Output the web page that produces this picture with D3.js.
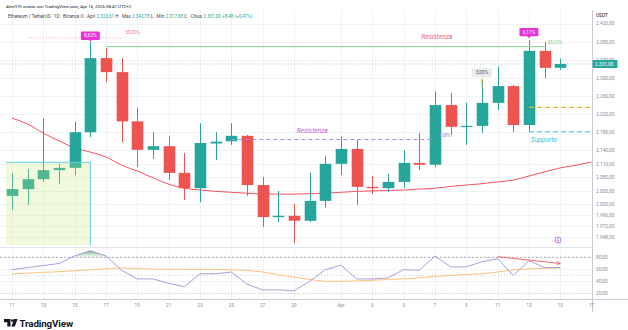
<!DOCTYPE html>
<html>
<head>
<meta charset="utf-8">
<script src="https://cdn.jsdelivr.net/npm/d3@7"></script>
<style>
  html, body { margin: 0; padding: 0; background: #fff; }
  svg { display: block; font-family: Roboto, "DejaVu Sans", sans-serif; }
</style>
</head>
<body>
<svg id="chart"></svg>
<script>
const width = 628;
const height = 330;

// daily candles ETH/USDT
const dates = [
  '2026-03-11', '2026-03-12', '2026-03-13', '2026-03-14', '2026-03-15', '2026-03-16',
  '2026-03-17', '2026-03-18', '2026-03-19', '2026-03-20', '2026-03-21', '2026-03-22',
  '2026-03-23', '2026-03-24', '2026-03-25', '2026-03-26', '2026-03-27', '2026-03-28',
  '2026-03-29', '2026-03-30', '2026-03-31', '2026-04-01', '2026-04-02', '2026-04-03',
  '2026-04-04', '2026-04-05', '2026-04-06', '2026-04-07', '2026-04-08', '2026-04-09',
  '2026-04-10', '2026-04-11', '2026-04-12', '2026-04-13', '2026-04-14', '2026-04-15'
];
const opens = [2039, 2054, 2076, 2096, 2101, 2180, 2344, 2313, 2204, 2141, 2149, 2090,
  2056, 2155, 2160, 2172, 2063, 1992, 1995, 1984, 2028, 2110, 2143, 2059,
  2056, 2070, 2112, 2108, 2240, 2192, 2194, 2245, 2282, 2196, 2360, 2322.61];
const highs = [2090, 2098, 2211, 2110, 2203, 2380, 2366, 2344, 2234, 2180, 2172, 2134,
  2200, 2180, 2200, 2174, 2081, 2050, 2021, 2090, 2128, 2170, 2163, 2083,
  2088, 2140, 2178, 2270, 2267, 2245, 2296, 2325, 2285, 2384, 2380, 2342.78];
const lows = [2008, 2019, 2070, 2065, 2085, 2169, 2291, 2158, 2103, 2121, 2074, 2030,
  2025, 2118, 2152, 2039, 1970, 1981, 1935, 1981, 2013, 2085, 2019, 2043,
  2048, 2057, 2096, 2103, 2174, 2152, 2178, 2229, 2180, 2181, 2299, 2317.68];
const closes = [2054, 2076, 2096, 2101, 2180, 2344, 2313, 2204, 2141, 2149, 2090, 2056,
  2156, 2159, 2172, 2063, 1992, 1995, 1984, 2028, 2110, 2143, 2059, 2056,
  2070, 2112, 2108, 2240, 2192, 2194, 2245, 2282, 2196, 2360, 2322.5, 2331];

// moving average (runs two days past the last candle)
const maDates = dates.concat(['2026-04-16', '2026-04-17']);
const maValues = [2211, 2198, 2178, 2161, 2145, 2136, 2125, 2107, 2094, 2079, 2065, 2056,
  2052, 2049, 2047, 2045, 2043, 2043, 2043, 2044, 2045, 2047, 2049, 2050,
  2051, 2052, 2054, 2056, 2060, 2063, 2066, 2070, 2074, 2083, 2092, 2101, 2107, 2114];

// RSI + its moving average
const rsiValues = [59.4, 62.9, 66.3, 69.7, 82.3, 90.9, 82.3, 58.3, 44, 44, 36.6, 30.9,
  52.6, 52.6, 55.4, 35.4, 25.7, 25.7, 24, 40, 59.4, 66.9, 44, 44,
  45.7, 59.4, 58.3, 82, 64, 64, 72.6, 77.7, 49.7, 74.3, 62.9, 62.9];
const rsiMaValues = [52.6, 53.5, 55, 56, 57.5, 59, 61, 62.3, 61, 60.5, 60, 60,
  59.5, 59.5, 59, 58.3, 55.4, 50.9, 46.9, 42.9, 40, 40, 40.6, 41.7,
  42.9, 44, 45.7, 48, 49.7, 51.4, 52.6, 55.4, 58.9, 60.6, 61.7, 62.3];

// axis ticks
const priceTicks = [2420, 2380, 2340, 2300, 2260, 2220, 2180, 2140, 2110, 2080, 2050, 2020, 1996, 1972, 1948];
const rsiTicks = [80, 60, 40, 20];
const dateTicks = ['2026-03-11', '2026-03-13', '2026-03-15', '2026-03-17', '2026-03-19', '2026-03-21',
  '2026-03-23', '2026-03-25', '2026-03-27', '2026-03-29', '2026-04-01', '2026-04-03', '2026-04-05',
  '2026-04-07', '2026-04-09', '2026-04-11', '2026-04-13', '2026-04-15', '2026-04-17'];

// drawings
const lastPrice = 2331;
const resistGreen = { from: '2026-03-17', to: '2026-04-14', price: 2369.3 };
const resistPurple = { from: '2026-03-25', to: '2026-04-07', price: 2163.8 };
const levelOrange = { from: '2026-04-13', to: '2026-04-17', price: 2235 };
const levelCyan = { from: '2026-04-13', to: '2026-04-17', price: 2181 };
const fibDotted = { from: '2026-03-12', to: '2026-03-18', price: 2389 };
const zone = { from: '2026-03-10T15:00Z', to: '2026-03-16', top: 2113.4, bottom: 1930.3 };
const pctTags = [
  { date: '2026-03-16', price: 2393.5, text: '8,62%' },
  { date: '2026-04-13', price: 2401.5, text: '6,11%' }
];
const grayTag = { date: '2026-04-10', price: 2311.5, text: '3,00%', arrowFrom: 2278, arrowTo: 2298 };
const labels = [
  { date: '2026-04-07T03:00Z', price: 2392.5, text: 'Resistenza', kind: 'red' },
  { date: '2026-03-30T04:00Z', price: 2183.3, text: 'Resistenza', kind: 'purple' },
  { date: '2026-04-13T23:00Z', price: 2162.7, text: 'Supporto', kind: 'cyan' },
  { date: '2026-04-07T15:00Z', price: 2173.8, text: '2,68%', kind: 'purpleSmall' },
  { date: '2026-04-14T16:00Z', price: 2379, text: '58,20%', kind: 'greenSmall' },
  { date: '2026-03-18T17:00Z', price: 2401.2, text: '50,00%', kind: 'pinkSmall' }
];
const rsiArrow = { from: '2026-04-11', to: '2026-04-15', v0: 81, v1: 69.7 };

// colors
const green = '#26a69a';
const red = '#ef5350';
const gridColor = '#f0f2f6';
const textGray = '#8a8d96';

const locale = d3.formatLocale({ decimal: ',', thousands: '.', grouping: [3], currency: ['', ''] });
const fmt = locale.format(',.2f');
const parse = d3.isoParse;

const axisX = 592;
const priceTop = 10, priceBottom = 247.5;
const rsiTop = 248, rsiBottom = 299;

const svg = d3.select('#chart').attr('width', width).attr('height', height);
svg.append('rect').attr('width', width).attr('height', height).attr('fill', '#fff');

const x = d3.scaleUtc()
  .domain([parse('2026-03-11'), parse('2026-04-17')])
  .range([12, 591.6]);
const y = d3.scaleLinear().domain([1925.9, 2450.5]).range([247, 10]);
const yRsi = d3.scaleLinear().domain([10.5, 95.5]).range([rsiBottom, rsiTop]);
const step = x(parse('2026-03-12')) - x(parse('2026-03-11'));

const defs = svg.append('defs');
defs.append('clipPath').attr('id', 'clipPrice')
  .append('rect').attr('x', 0).attr('y', priceTop).attr('width', axisX).attr('height', priceBottom - priceTop);
defs.append('clipPath').attr('id', 'clipRsi')
  .append('rect').attr('x', 0).attr('y', rsiTop).attr('width', axisX).attr('height', rsiBottom - rsiTop);
defs.append('clipPath').attr('id', 'clipOb')
  .append('rect').attr('x', 0).attr('y', rsiTop).attr('width', axisX).attr('height', yRsi(80) - rsiTop);
const grad = defs.append('linearGradient').attr('id', 'obFill')
  .attr('gradientUnits', 'userSpaceOnUse')
  .attr('x1', 0).attr('x2', 0).attr('y1', yRsi(92)).attr('y2', yRsi(80));
grad.append('stop').attr('offset', 0).attr('stop-color', '#388e3c').attr('stop-opacity', 0.75);
grad.append('stop').attr('offset', 1).attr('stop-color', '#66bb6a').attr('stop-opacity', 0.05);
const mk = defs.append('marker').attr('id', 'arrRed').attr('viewBox', '0 0 6 6')
  .attr('refX', 5).attr('refY', 3).attr('markerWidth', 5).attr('markerHeight', 5).attr('orient', 'auto');
mk.append('path').attr('d', 'M0,0L5,3L0,6').attr('fill', 'none').attr('stroke', '#f7525f').attr('stroke-width', 1);
const mk2 = defs.append('marker').attr('id', 'arrOrange').attr('viewBox', '0 0 6 6')
  .attr('refX', 5).attr('refY', 3).attr('markerWidth', 4).attr('markerHeight', 4).attr('orient', 'auto');
mk2.append('path').attr('d', 'M0,0L5,3L0,6').attr('fill', 'none').attr('stroke', '#f5b53d').attr('stroke-width', 1);

// GRID
const grid = svg.append('g');
grid.selectAll('.vgrid').data(dateTicks).join('line')
  .attr('x1', d => Math.round(x(parse(d))) + 0.5).attr('x2', d => Math.round(x(parse(d))) + 0.5)
  .attr('y1', priceTop).attr('y2', rsiBottom)
  .attr('stroke', gridColor);
grid.selectAll('.hgrid').data(priceTicks).join('line')
  .attr('x1', 0).attr('x2', axisX)
  .attr('y1', d => Math.round(y(d)) + 0.5).attr('y2', d => Math.round(y(d)) + 0.5)
  .attr('stroke', gridColor);
grid.selectAll('.rgrid').data(rsiTicks).join('line')
  .attr('x1', 0).attr('x2', axisX)
  .attr('y1', d => Math.round(yRsi(d)) + 0.5).attr('y2', d => Math.round(yRsi(d)) + 0.5)
  .attr('stroke', gridColor);

// PRICE PANE
const gp = svg.append('g').attr('clip-path', 'url(#clipPrice)');

// current price dotted line
gp.append('line')
  .attr('x1', 0).attr('x2', axisX)
  .attr('y1', y(lastPrice)).attr('y2', y(lastPrice))
  .attr('stroke', green).attr('stroke-opacity', 0.55).attr('stroke-dasharray', '1,2');

// moving average
const maLine = d3.line().x((d, i) => x(parse(maDates[i]))).y(d => y(d)).curve(d3.curveMonotoneX);
gp.append('path').datum(maValues)
  .attr('d', maLine).attr('fill', 'none').attr('stroke', '#f7525f').attr('stroke-width', 1);

const candles = dates.map((d, i) => ({ date: parse(d), o: opens[i], h: highs[i], l: lows[i], c: closes[i] }));
const cx = d => Math.round(x(d.date)) + 0.5;
const colorOf = d => (d.c >= d.o ? green : red);

gp.selectAll('.wick').data(candles).join('line')
  .attr('x1', cx).attr('x2', cx)
  .attr('y1', d => y(d.h)).attr('y2', d => y(d.l))
  .attr('stroke', colorOf).attr('stroke-width', 1);
const bw = step * 0.74;
gp.selectAll('.body').data(candles).join('rect')
  .attr('x', d => cx(d) - bw / 2)
  .attr('y', d => y(Math.max(d.o, d.c)))
  .attr('width', bw)
  .attr('height', d => Math.max(1.2, Math.abs(y(d.o) - y(d.c))))
  .attr('fill', colorOf);

// zone box
const zx0 = x(parse(zone.from)), zx1 = x(parse(zone.to));
gp.append('rect')
  .attr('x', zx0).attr('y', y(zone.top))
  .attr('width', zx1 - zx0).attr('height', y(zone.bottom) - y(zone.top))
  .attr('fill', 'rgba(205,235,120,0.25)');
gp.append('path')
  .attr('d', `M${zx0},${y(zone.top)}H${zx1}V${y(zone.bottom)}`)
  .attr('fill', 'none').attr('stroke', '#5fd3e3').attr('stroke-width', 1);

// horizontal drawings
const hline = (lv, color, dash, w) => gp.append('line')
  .attr('x1', x(parse(lv.from))).attr('x2', x(parse(lv.to)))
  .attr('y1', y(lv.price)).attr('y2', y(lv.price))
  .attr('stroke', color).attr('stroke-width', w)
  .attr('stroke-dasharray', dash);
hline(resistGreen, '#9ed49f', null, 1.2);
hline(resistPurple, '#a58de6', '4,3', 1);
hline(levelOrange, '#f5b829', '5,3', 1.2);
hline(levelCyan, '#3fc8dc', '5,3', 1.2);
hline(fibDotted, '#f5a0b8', '1,2', 1);

// percentage tags (magenta)
pctTags.forEach(t => {
  const tx = x(parse(t.date)), ty = y(t.price);
  gp.append('path')
    .attr('d', `M${tx - 2},${ty + 3.5}L${tx},${ty + 6}L${tx + 2},${ty + 3.5}Z`)
    .attr('fill', '#e535d6');
  gp.append('rect')
    .attr('x', tx - 9.5).attr('y', ty - 4.2).attr('width', 19).attr('height', 8.4)
    .attr('rx', 1).attr('fill', '#e535d6');
  gp.append('text')
    .attr('x', tx).attr('y', ty + 1.7)
    .attr('text-anchor', 'middle').attr('font-size', 4.8).attr('fill', '#fff')
    .text(t.text);
});

// gray tag with arrow
{
  const tx = x(parse(grayTag.date));
  gp.append('line')
    .attr('x1', tx).attr('x2', tx)
    .attr('y1', y(grayTag.arrowFrom)).attr('y2', y(grayTag.arrowTo))
    .attr('stroke', '#f5b53d').attr('stroke-width', 0.8)
    .attr('marker-end', 'url(#arrOrange)');
  gp.append('rect')
    .attr('x', tx - 10).attr('y', y(grayTag.price) - 4.5)
    .attr('width', 20).attr('height', 9).attr('rx', 1.2)
    .attr('fill', '#ebebed');
  gp.append('text')
    .attr('x', tx).attr('y', y(grayTag.price) + 1.7)
    .attr('text-anchor', 'middle').attr('font-size', 4.8).attr('fill', '#50535e')
    .text(grayTag.text);
}

// text labels
const labelStyle = {
  red: { size: 6.6, color: '#f0607a', italic: true },
  purple: { size: 6.6, color: '#b466d2', italic: true },
  cyan: { size: 6.6, color: '#33c1d6', italic: true },
  purpleSmall: { size: 4.6, color: '#9c82d8', italic: false },
  greenSmall: { size: 4.6, color: '#8fcf92', italic: false },
  pinkSmall: { size: 4.6, color: '#f27f9c', italic: false }
};
labels.forEach(l => {
  const s = labelStyle[l.kind];
  gp.append('text')
    .attr('x', x(parse(l.date))).attr('y', y(l.price))
    .attr('dy', '0.35em')
    .attr('text-anchor', 'middle')
    .attr('font-size', s.size)
    .attr('font-style', s.italic ? 'italic' : 'normal')
    .attr('fill', s.color)
    .text(l.text);
});

// small icon bottom right of price pane
svg.append('circle').attr('cx', 558).attr('cy', 240).attr('r', 3)
  .attr('fill', '#fff').attr('stroke', '#b35bd6').attr('stroke-width', 0.8);
svg.append('path').attr('d', 'M558.6,238L557,240.3H559L557.4,242')
  .attr('fill', 'none').attr('stroke', '#b35bd6').attr('stroke-width', 0.6);

// RSI PANE
const gr = svg.append('g').attr('clip-path', 'url(#clipRsi)');
gr.append('line').attr('x1', 0).attr('x2', axisX)
  .attr('y1', yRsi(80)).attr('y2', yRsi(80))
  .attr('stroke', '#9a9ca3').attr('stroke-dasharray', '2,2').attr('stroke-width', 0.8);
[50, 20].forEach(v => gr.append('line').attr('x1', 0).attr('x2', axisX)
  .attr('y1', yRsi(v)).attr('y2', yRsi(v))
  .attr('stroke', '#bfc1c7').attr('stroke-dasharray', '1,2').attr('stroke-width', 0.8));

const rsiX = (d, i) => x(parse(dates[i]));
gr.append('path').datum(rsiValues)
  .attr('clip-path', 'url(#clipOb)')
  .attr('d', d3.area().x(rsiX).y0(yRsi(80)).y1(d => yRsi(d)))
  .attr('fill', 'url(#obFill)');
gr.append('path').datum(rsiMaValues)
  .attr('d', d3.line().x(rsiX).y(d => yRsi(d)))
  .attr('fill', 'none').attr('stroke', '#f9bd72').attr('stroke-width', 0.9);
gr.append('path').datum(rsiValues)
  .attr('d', d3.line().x(rsiX).y(d => yRsi(d)))
  .attr('fill', 'none').attr('stroke', '#9487d4').attr('stroke-width', 0.8);
gr.append('line')
  .attr('x1', x(parse(rsiArrow.from))).attr('y1', yRsi(rsiArrow.v0))
  .attr('x2', x(parse(rsiArrow.to))).attr('y2', yRsi(rsiArrow.v1))
  .attr('stroke', '#f7525f').attr('stroke-width', 0.9)
  .attr('marker-end', 'url(#arrRed)');

// SEPARATORS
svg.append('line').attr('x1', 0).attr('x2', axisX).attr('y1', 247.5).attr('y2', 247.5)
  .attr('stroke', '#e0e3eb');
svg.append('line').attr('x1', axisX + 0.5).attr('x2', axisX + 0.5).attr('y1', priceTop).attr('y2', 312)
  .attr('stroke', '#c9ccd4');
svg.append('line').attr('x1', 0).attr('x2', width).attr('y1', rsiBottom + 0.5).attr('y2', rsiBottom + 0.5)
  .attr('stroke', '#c9ccd4');

// PRICE AXIS
const pAxis = svg.append('g');
pAxis.selectAll('text').data(priceTicks).join('text')
  .attr('x', axisX + 4).attr('y', d => y(d)).attr('dy', '0.35em')
  .attr('font-size', 4.8).attr('fill', textGray)
  .text(d => fmt(d));
pAxis.append('rect')
  .attr('x', axisX + 0.5).attr('y', y(lastPrice) - 4).attr('width', 25).attr('height', 8)
  .attr('rx', 1).attr('fill', green);
pAxis.append('text')
  .attr('x', axisX + 3).attr('y', y(lastPrice)).attr('dy', '0.35em')
  .attr('font-size', 4.8).attr('fill', '#fff')
  .text(fmt(lastPrice));
svg.append('rect').attr('x', axisX + 1).attr('y', 10).attr('width', 34).attr('height', 10).attr('fill', '#fff');
svg.append('text').attr('x', axisX + 4).attr('y', 16.5)
  .attr('font-size', 4.8).attr('fill', '#131722').text('USDT');

// RSI axis
svg.append('g').selectAll('text').data(rsiTicks).join('text')
  .attr('x', axisX + 4).attr('y', d => yRsi(d)).attr('dy', '0.35em')
  .attr('font-size', 4.8).attr('fill', textGray)
  .text(d => fmt(d));

// TIME AXIS
const dayFmt = d3.utcFormat('%-d');
svg.append('g').selectAll('text').data(dateTicks).join('text')
  .attr('x', d => x(parse(d))).attr('y', 306.5)
  .attr('text-anchor', 'middle').attr('font-size', 4.8).attr('fill', textGray)
  .text(d => (parse(d).getUTCDate() === 1 ? d3.utcFormat('%b')(parse(d)) : dayFmt(parse(d))));

// HEADER
svg.append('text').attr('x', 6).attr('y', 7.5)
  .attr('font-size', 4.4).attr('fill', '#131722')
  .text('Alex975 creato con TradingView.com, Apr 16, 2026 08:41 UTC+2');
const legend = svg.append('text').attr('x', 8).attr('y', 17.5).attr('font-size', 4.6).attr('fill', '#434651');
legend.append('tspan').text('Ethereum / TetherUS · 1D · Binance   O · Apri ');
legend.append('tspan').attr('fill', green).text('2.322,61');
legend.append('tspan').text('  H · Max ');
legend.append('tspan').attr('fill', green).text('2.342,78');
legend.append('tspan').text('  L · Min ');
legend.append('tspan').attr('fill', green).text('2.317,68');
legend.append('tspan').text('  C · Chius ');
legend.append('tspan').attr('fill', green).text('2.331,00  +8,48 (+0,47%)');

// LOGO
const logo = svg.append('g').attr('fill', '#131722');
logo.append('path').attr('d', 'M4,319h6.5v7.5h-3.2v-4.3h-3.3z');
logo.append('circle').attr('cx', 12.4).attr('cy', 320.6).attr('r', 1.4);
logo.append('path').attr('d', 'M14.2,319h3.4l-2.8,7.5h-3.4z');
logo.append('text').attr('x', 19.5).attr('y', 326.5)
  .attr('font-size', 9.8).attr('font-weight', 700).attr('letter-spacing', -0.15)
  .text('TradingView');
</script>
</body>
</html>
